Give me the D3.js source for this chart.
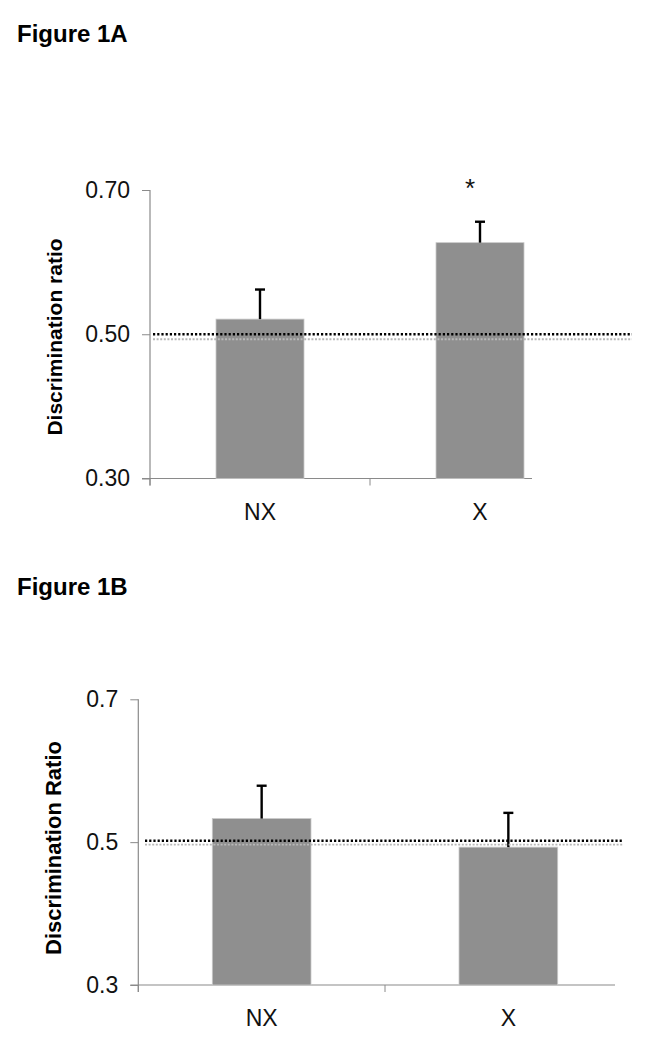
<!DOCTYPE html>
<html>
<head>
<meta charset="utf-8">
<script src="https://cdn.jsdelivr.net/npm/d3@7"></script>
<style>
  html, body { margin: 0; padding: 0; background: #fff; }
  svg { display: block; font-family: "Liberation Sans", Arial, Helvetica, sans-serif; }
</style>
</head>
<body>
<svg id="chart" width="650" height="1050"></svg>
<script>
// ---- data ----
const categories = ["NX", "X"];
const meansA = [0.521, 0.627];
const errorsA = [0.041, 0.029];
const meansB = [0.533, 0.493];
const errorsB = [0.046, 0.048];
const yTicksA = [0.30, 0.50, 0.70];
const yTicksB = [0.3, 0.5, 0.7];
const chanceA = 0.50;
const chanceB = 0.502;
const significanceA = ["", "*"];

const svg = d3.select("#chart");

function drawPanel(p) {
  const g = svg.append("g");
  const x = d3.scaleBand().domain(categories)
    .range([p.left, p.right]).paddingInner(0.6).paddingOuter(0.3);
  const y = d3.scaleLinear().domain([0.3, 0.7]).range([p.bottom, p.top]);
  const step = x.step();

  // title
  svg.append("text").attr("x", 17).attr("y", p.titleY)
    .attr("font-size", 24).attr("font-weight", "bold").attr("fill", "#000")
    .text(p.title);

  // y axis
  const yAxis = d3.axisLeft(y).tickValues(p.yTicks).tickFormat(d3.format(p.fmt))
    .tickSize(8).tickPadding(p.tickPad);
  const ya = g.append("g").attr("transform", `translate(${p.left},0)`).call(yAxis);
  ya.select(".domain").remove();
  ya.selectAll(".tick line").attr("stroke", "#8a8a8a");
  ya.selectAll(".tick text").attr("font-size", 23).attr("fill", "#111")
    .attr("font-family", "'Liberation Sans', Arial, sans-serif");
  g.append("line").attr("x1", p.left).attr("x2", p.left)
    .attr("y1", y(0.7)).attr("y2", y(0.3) + 7).attr("stroke", "#8a8a8a").attr("stroke-width", 1.2);

  // x axis line and boundary ticks
  g.append("line").attr("x1", p.left - 8).attr("x2", p.axisEnd)
    .attr("y1", y(0.3)).attr("y2", y(0.3)).attr("stroke", "#8a8a8a").attr("stroke-width", 1.2);
  const boundaries = categories.map((c, i) => x(c) - step * 0.3);
  g.selectAll(".xtick").data(boundaries).enter().append("line")
    .attr("x1", d => d).attr("x2", d => d)
    .attr("y1", y(0.3)).attr("y2", y(0.3) + 7).attr("stroke", "#8a8a8a");
  g.selectAll(".xlab").data(categories).enter().append("text")
    .attr("x", d => x(d) + x.bandwidth() / 2).attr("y", p.labelY)
    .attr("text-anchor", "middle").attr("font-size", 23).attr("fill", "#111")
    .text(d => d);

  // bars
  g.selectAll(".bar").data(p.means).enter().append("rect")
    .attr("x", (d, i) => x(categories[i]))
    .attr("y", d => y(d))
    .attr("width", x.bandwidth())
    .attr("height", d => y(0.3) - y(d))
    .attr("fill", "#8f8f8f")
    .attr("stroke", "#c9c9c9").attr("stroke-width", 0.8);

  // error bars (upper only)
  p.means.forEach((m, i) => {
    const cx = x(categories[i]) + x.bandwidth() / 2;
    const top = y(m + p.errors[i]);
    g.append("line").attr("x1", cx).attr("x2", cx).attr("y1", y(m)).attr("y2", top)
      .attr("stroke", "#000").attr("stroke-width", 2.4);
    g.append("line").attr("x1", cx - 5).attr("x2", cx + 5).attr("y1", top).attr("y2", top)
      .attr("stroke", "#000").attr("stroke-width", 2.4);
  });

  // chance level dotted lines
  g.append("line").attr("x1", p.dotStart).attr("x2", p.dotEnd)
    .attr("y1", y(p.chance) + p.greyOffset).attr("y2", y(p.chance) + p.greyOffset)
    .attr("stroke", "#b8b8b8").attr("stroke-width", 1.8).attr("stroke-dasharray", "2,1.6");
  g.append("line").attr("x1", p.dotStart).attr("x2", p.dotEnd)
    .attr("y1", y(p.chance)).attr("y2", y(p.chance))
    .attr("stroke", "#000").attr("stroke-width", 2.4).attr("stroke-dasharray", "2.2,2");

  // significance markers
  if (p.sig) {
    g.selectAll(".sig").data(p.sig).enter().append("text")
      .attr("x", (d, i) => x(categories[i]) + x.bandwidth() / 2 - 10)
      .attr("y", p.sigY).attr("text-anchor", "middle")
      .attr("font-size", 26).attr("fill", "#111").text(d => d);
  }

  // y axis title
  svg.append("text")
    .attr("transform", `translate(${p.yTitleX},${p.yTitleY}) rotate(-90)`)
    .attr("text-anchor", "middle").attr("font-size", p.yTitleSize).attr("font-weight", "bold")
    .attr("fill", "#000").text(p.yTitle);
}

drawPanel({
  title: "Figure 1A", titleY: 42,
  left: 150, right: 590, top: 190, bottom: 478.5, axisEnd: 532,
  means: meansA, errors: errorsA, yTicks: yTicksA, fmt: ".2f", tickPad: 12,
  chance: chanceA, greyOffset: 5, dotStart: 153, dotEnd: 632,
  labelY: 520, sig: significanceA, sigY: 197,
  yTitle: "Discrimination ratio", yTitleX: 62, yTitleY: 337, yTitleSize: 21
});

drawPanel({
  title: "Figure 1B", titleY: 595,
  left: 138.3, right: 631.7, top: 699.3, bottom: 985, axisEnd: 615,
  means: meansB, errors: errorsB, yTicks: yTicksB, fmt: ".1f", tickPad: 12,
  chance: chanceB, greyOffset: 4, dotStart: 145, dotEnd: 623,
  labelY: 1026, sig: null,
  yTitle: "Discrimination Ratio", yTitleX: 61, yTitleY: 848, yTitleSize: 22
});
</script>
</body>
</html>
